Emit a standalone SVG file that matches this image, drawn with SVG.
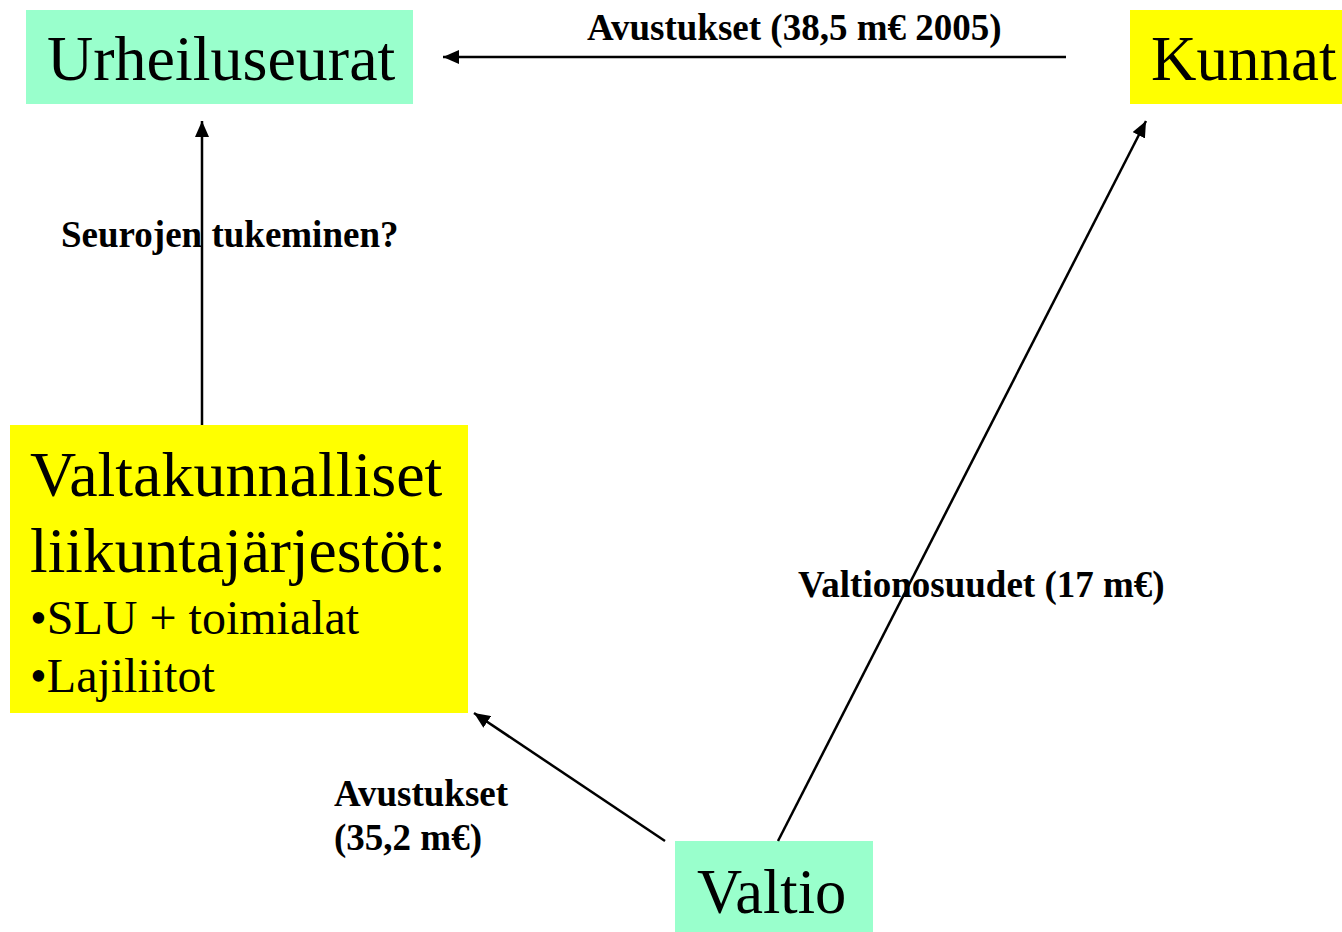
<svg xmlns="http://www.w3.org/2000/svg" width="1342" height="932" viewBox="0 0 1342 932">
<style>
.node{font-family:"Liberation Serif","Times New Roman",serif;fill:#000}
.lbl{font-family:"Liberation Serif","Times New Roman",serif;font-weight:bold;font-size:37px;fill:#000}
.conn{stroke:#000;stroke-width:2.5;fill:none;marker-end:url(#arr)}
</style>
<defs>
<marker id="arr" markerUnits="userSpaceOnUse" markerWidth="18" markerHeight="14" refX="16" refY="7" orient="auto">
<path d="M0,0 L16,7 L0,14 Z" fill="#000"/>
</marker>
</defs>
<rect width="1342" height="932" fill="#fff"/>
<g id="urheiluseurat">
<rect x="26" y="10" width="387" height="94" fill="#99ffcc"/>
<text class="node" x="47" y="80" font-size="64">Urheiluseurat</text>
</g>
<g id="kunnat">
<rect x="1130" y="10" width="212" height="94" fill="#ffff00"/>
<text class="node" x="1151" y="80" font-size="63">Kunnat</text>
</g>
<g id="valtakunnalliset">
<rect x="10" y="425" width="458" height="288" fill="#ffff00"/>
<text class="node" x="30" y="496" font-size="64">Valtakunnalliset</text>
<text class="node" x="30" y="572" font-size="63.5">liikuntajärjestöt:</text>
<text class="node" x="30" y="634" font-size="48">•SLU + toimialat</text>
<text class="node" x="30" y="692" font-size="48">•Lajiliitot</text>
</g>
<g id="valtio">
<rect x="675" y="841" width="198" height="91" fill="#99ffcc"/>
<text class="node" x="697" y="913" font-size="62.5">Valtio</text>
</g>
<g id="connectors">
<line class="conn" x1="1066" y1="57" x2="443" y2="57"/>
<line class="conn" x1="202" y1="425" x2="202" y2="121"/>
<line class="conn" x1="778" y1="841" x2="1146" y2="121"/>
<line class="conn" x1="665" y1="841" x2="474" y2="713"/>
</g>
<g id="labels">
<text class="lbl" x="587" y="40">Avustukset (38,5 m€ 2005)</text>
<text class="lbl" x="61" y="247">Seurojen tukeminen?</text>
<text class="lbl" x="798" y="597">Valtionosuudet (17 m€)</text>
<text class="lbl" x="334" y="806">Avustukset</text>
<text class="lbl" x="334" y="850">(35,2 m€)</text>
</g>
</svg>
